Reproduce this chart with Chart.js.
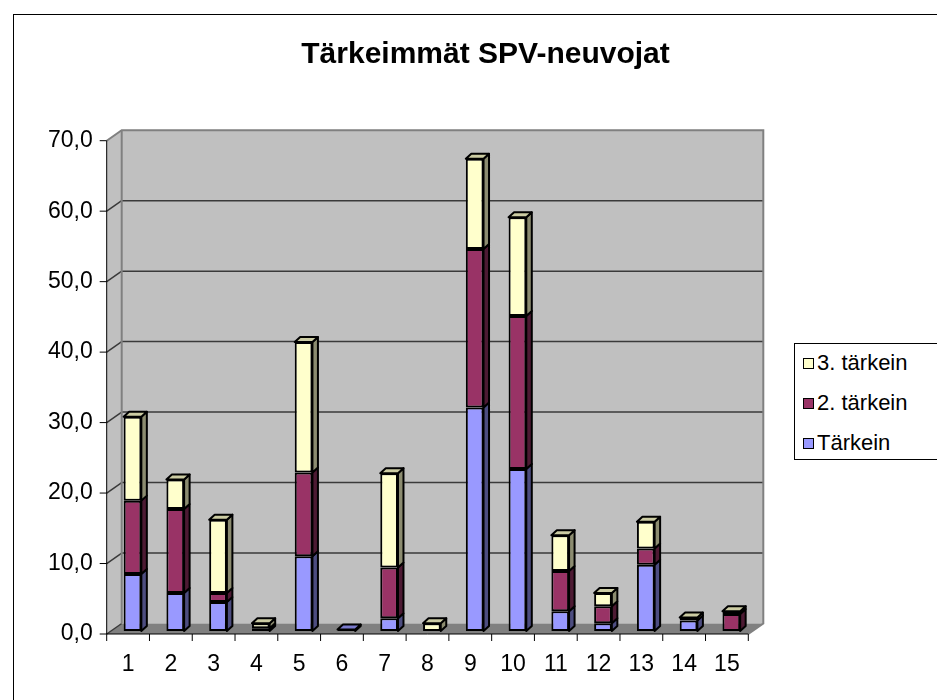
<!DOCTYPE html>
<html lang="fi">
<head>
<meta charset="utf-8">
<title>Tärkeimmät SPV-neuvojat</title>
<script src="https://cdn.jsdelivr.net/npm/chart.js@4/dist/chart.umd.min.js"></script>
<style>
  html, body { margin: 0; padding: 0; background: #fff; }
  #wrap { position: relative; width: 937px; height: 700px; overflow: hidden; font-family: Arial, 'Liberation Sans', sans-serif; }
  #frame { position: absolute; left: 13px; top: 14px; width: 960px; height: 720px; border: 1px solid #000; }
  #chart { position: absolute; left: 0; top: 0; }
  #title { position: absolute; left: 0; top: 35px; width: 971px; height: 36px; line-height: 36px; text-align: center; font-size: 30px; font-weight: bold; color: #000; white-space: nowrap; }
  #legend { position: absolute; left: 794px; top: 343px; width: 170px; height: 115px; border: 1px solid #000; background: #fff; }
  .item { position: absolute; left: 8px; height: 26px; line-height: 26px; font-size: 22px; color: #000; white-space: nowrap; }
  .swatch { display: inline-block; width: 9px; height: 9px; border: 1.5px solid #000; margin-right: 3px; vertical-align: 1px; }
</style>
</head>
<body>
<div id="wrap">
  <div id="frame"></div>
  <canvas id="chart" width="937" height="700"></canvas>
  <div id="title">Tärkeimmät SPV-neuvojat</div>
  <div id="legend"></div>
</div>
<script>
const categories = ['1', '2', '3', '4', '5', '6', '7', '8', '9', '10', '11', '12', '13', '14', '15'];
const tarkein = [8.1, 5.4, 4.1, null, 10.6, 0.2, 1.8, null, 31.7, 23.0, 2.8, 1.1, 9.4, 1.5, null];
const toinenTarkein = [10.4, 11.9, 1.3, 0.4, 11.9, null, 7.2, null, 22.5, 21.7, 5.7, 2.4, 2.3, null, 2.4];
const kolmasTarkein = [11.9, 4.2, 10.4, 0.7, 18.5, null, 13.4, 1.1, 12.8, 14.0, 5.1, 1.9, 3.8, 0.4, 0.4];
const yTickValues = [0, 10, 20, 30, 40, 50, 60, 70];
const yMax = 70;

const FONT = "Arial, 'Liberation Sans', sans-serif";

// 3D offsets relative to the plane the bar fronts are drawn on
const depth = {
    front: { dx: -4.4, dy: 3 },
    back: { dx: 10.6, dy: -7.5 },
    bar: { dx: 5.5, dy: -5 }
};

function poly(ctx, pts) {
    ctx.beginPath();
    ctx.moveTo(pts[0][0], pts[0][1]);
    for (let i = 1; i < pts.length; i++) ctx.lineTo(pts[i][0], pts[i][1]);
    ctx.closePath();
}

function seg(ctx, x1, y1, x2, y2) {
    ctx.beginPath();
    ctx.moveTo(x1, y1);
    ctx.lineTo(x2, y2);
    ctx.stroke();
}

const wall3d = {
    id: 'wall3d',
    beforeDatasetsDraw(chart) {
        const ctx = chart.ctx;
        const xs = chart.scales.x, ys = chart.scales.y;
        const L = xs.left, R = xs.right;
        const T = ys.getPixelForValue(yMax), B = ys.getPixelForValue(0);
        const f = depth.front, k = depth.back;
        ctx.save();

        ctx.fillStyle = '#c0c0c0';
        poly(ctx, [[L + f.dx, T + f.dy], [L + k.dx, T + k.dy], [L + k.dx, B + k.dy], [L + f.dx, B + f.dy]]);
        ctx.fill();
        ctx.fillRect(L + k.dx, T + k.dy, R - L, B - T);

        ctx.fillStyle = '#808080';
        poly(ctx, [[L + f.dx, B + f.dy], [R + f.dx, B + f.dy], [R + k.dx, B + k.dy], [L + k.dx, B + k.dy]]);
        ctx.fill();

        ctx.strokeStyle = '#3a3a3a';
        ctx.lineWidth = 1.5;
        yTickValues.forEach(v => {
            const y = ys.getPixelForValue(v);
            if (v > 0 && v < yMax) {
                seg(ctx, L + k.dx, y + k.dy, R + k.dx, y + k.dy);
                seg(ctx, L + f.dx, y + f.dy, L + k.dx, y + k.dy);
            }
        });
        seg(ctx, L + f.dx, B + f.dy, L + k.dx, B + k.dy);

        ctx.strokeStyle = '#808080';
        ctx.lineWidth = 2;
        ctx.beginPath();
        ctx.moveTo(L + f.dx, T + f.dy);
        ctx.lineTo(L + k.dx, T + k.dy);
        ctx.lineTo(R + k.dx, T + k.dy);
        ctx.lineTo(R + k.dx, B + k.dy);
        ctx.lineTo(R + f.dx, B + f.dy);
        ctx.stroke();
        seg(ctx, L + k.dx, T + k.dy, L + k.dx, B + k.dy);

        ctx.strokeStyle = '#000';
        ctx.lineWidth = 1;
        seg(ctx, L + f.dx, T + f.dy, L + f.dx, B + f.dy);
        yTickValues.forEach(v => {
            const y = ys.getPixelForValue(v) + f.dy;
            seg(ctx, L + f.dx - 7, y, L + f.dx, y);
        });
        seg(ctx, L + f.dx, B + f.dy, R + f.dx, B + f.dy);
        const n = categories.length;
        for (let i = 0; i <= n; i++) {
            const x = L + i * (R - L) / n + f.dx;
            seg(ctx, x, B + f.dy, x, B + f.dy + 7);
        }
        ctx.restore();
    },
    afterDatasetsDraw(chart) {
        const ctx = chart.ctx;
        const b = depth.bar;
        ctx.save();
        ctx.strokeStyle = '#000';
        ctx.lineWidth = 2;
        ctx.lineJoin = 'round';
        for (let i = 0; i < categories.length; i++) {
            let top = null;
            chart.data.datasets.forEach((ds, d) => {
                if (!ds.data[i]) return;
                const bar = chart.getDatasetMeta(d).data[i];
                const { x, y, base, width } = bar.getProps(['x', 'y', 'base', 'width'], true);
                const r = x + width / 2;
                ctx.fillStyle = ds.sideColor;
                poly(ctx, [[r, y], [r + b.dx, y + b.dy], [r + b.dx, base + b.dy], [r, base]]);
                ctx.fill();
                ctx.stroke();
                top = { x, y, width, color: ds.topColor };
            });
            if (top) {
                const l = top.x - top.width / 2, r = top.x + top.width / 2;
                ctx.fillStyle = top.color;
                poly(ctx, [[l, top.y], [l + b.dx, top.y + b.dy], [r + b.dx, top.y + b.dy], [r, top.y]]);
                ctx.fill();
                ctx.stroke();
            }
        }
        ctx.restore();
    }
};

const datasets = [
    { label: 'Tärkein', data: tarkein, backgroundColor: '#9999ff', sideColor: '#4d4d80', topColor: '#7a7acc' },
    { label: '2. tärkein', data: toinenTarkein, backgroundColor: '#993366', sideColor: '#4d1a33', topColor: '#7a2952' },
    { label: '3. tärkein', data: kolmasTarkein, backgroundColor: '#ffffcc', sideColor: '#8c8c70', topColor: '#cccca3' }
].map(ds => Object.assign(ds, {
    borderColor: '#000',
    borderWidth: 2,
    borderSkipped: false,
    categoryPercentage: 1,
    barPercentage: 0.414
}));

new Chart(document.getElementById('chart'), {
    type: 'bar',
    data: { labels: categories, datasets },
    options: {
        responsive: false,
        animation: false,
        events: [],
        layout: { padding: { left: 0, top: 137.7, right: 184.3, bottom: 0 } },
        plugins: {
            legend: { display: false },
            tooltip: { enabled: false },
            title: { display: false }
        },
        scales: {
            x: {
                stacked: true,
                grid: { display: false, drawTicks: false },
                border: { display: false },
                ticks: { color: '#000', font: { family: FONT, size: 23 }, padding: 20.2, labelOffset: -4.4, maxRotation: 0, autoSkip: false },
                afterFit: s => { s.height = 69; }
            },
            y: {
                stacked: true,
                min: 0,
                max: yMax,
                grid: { display: false, drawTicks: false },
                border: { display: false },
                ticks: {
                    stepSize: 10,
                    color: '#000',
                    font: { family: FONT, size: 23 },
                    padding: 18.4,
                    labelOffset: 3,
                    callback: v => v.toFixed(1).replace('.', ',')
                },
                afterFit: s => { s.width = 111.1; }
            }
        }
    },
    plugins: [wall3d]
});

const legend = document.getElementById('legend');
datasets.slice().reverse().forEach((ds, i) => {
    const item = document.createElement('div');
    item.className = 'item';
    item.style.top = (6 + i * 40) + 'px';
    item.innerHTML = '<span class="swatch" style="background:' + ds.backgroundColor + '"></span>' + ds.label;
    legend.appendChild(item);
});
</script>
</body>
</html>
